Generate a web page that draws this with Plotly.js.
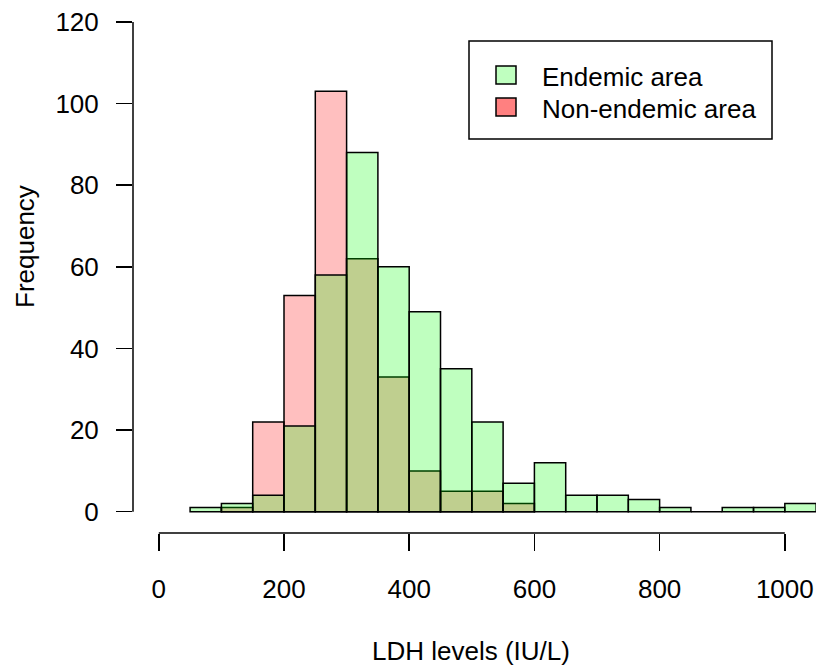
<!DOCTYPE html>
<html>
<head>
<meta charset="utf-8">
<script src="https://cdn.plot.ly/plotly-3.0.1.min.js"></script>
<style>html,body{margin:0;padding:0;background:#fff;}#chart{width:816px;height:668px;}</style>
</head>
<body>
<div id="chart"></div>
<script>
// ---- data ----
const binStarts = [50,100,150,200,250,300,350,400,450,500,550,600,650,700,750,800,850,900,950,1000];
const binWidth = 50;
const endemic = [1,2,4,21,58,88,60,49,35,22,7,12,4,4,3,1,0,1,1,2];
const nonEndemicStarts = [100,150,200,250,300,350,400,450,500,550];
const nonEndemic = [1,22,53,103,62,33,10,5,5,2];
const seriesNames = ['Endemic area','Non-endemic area'];
const xTicks = [0,200,400,600,800,1000];
const yTicks = [0,20,40,60,80,100,120];
const xTitle = 'LDH levels (IU/L)';
const yTitle = 'Frequency';

const FONT = '"Liberation Sans", Arial, sans-serif';
const centers = a => a.map(v => v + binWidth/2);

const traces = [
  {type:'bar', name:seriesNames[1], x:centers(nonEndemicStarts), y:nonEndemic, width:binWidth,
   marker:{color:'rgba(255,0,0,0.25)', line:{color:'#000', width:1.5}}, showlegend:false, hoverinfo:'x+y'},
  {type:'bar', name:seriesNames[0], x:centers(binStarts), y:endemic, width:binWidth,
   marker:{color:'rgba(0,255,0,0.25)', line:{color:'#000', width:1.5}}, showlegend:false, hoverinfo:'x+y'}
];

const L = 133, T = 10, W = 683, H = 523;
const px = v => (v - L) / W;
const py = v => (T + H - v) / H;

const layout = {
  width:816, height:668,
  margin:{l:L, r:0, t:T, b:668-T-H, pad:0},
  paper_bgcolor:'#fff', plot_bgcolor:'#fff',
  barmode:'overlay', bargap:0,
  font:{family:FONT, size:26, color:'#000'},
  showlegend:false,
  xaxis:{range:[-41.2,1049.8], tickvals:xTicks, ticktext:xTicks.map(String), ticks:'outside', ticklen:17, tickwidth:1.5, tickcolor:'#000',
         showgrid:false, zeroline:false, showline:false, ticklabelstandoff:16, tickfont:{family:FONT,size:26,color:'#000'}},
  yaxis:{range:[-5.22,122.94], tickvals:yTicks, ticktext:yTicks.map(String), ticks:'outside', ticklen:16, tickwidth:1.5, tickcolor:'#000',
         showgrid:false, zeroline:false, showline:false, ticklabelstandoff:12, tickfont:{family:FONT,size:26,color:'#000'}},
  shapes:[
    {type:'line', xref:'x', yref:'paper', x0:xTicks[0], x1:xTicks[xTicks.length-1], y0:0, y1:0, line:{color:'#000', width:1.5}},
    {type:'line', xref:'paper', yref:'y', x0:0, x1:0, y0:yTicks[0], y1:yTicks[yTicks.length-1], line:{color:'#000', width:1.5}},
    {type:'rect', xref:'paper', yref:'paper', x0:px(469), x1:px(772), y0:py(139), y1:py(41), line:{color:'#000', width:1.5}, fillcolor:'#fff'},
    {type:'rect', xref:'paper', yref:'paper', x0:px(496), x1:px(516), y0:py(84), y1:py(66), line:{color:'#000', width:1.5}, fillcolor:'#BFFFBF'},
    {type:'rect', xref:'paper', yref:'paper', x0:px(496), x1:px(516), y0:py(116), y1:py(98), line:{color:'#000', width:1.5}, fillcolor:'#FF8080'}
  ],
  annotations:[
    {text:xTitle, xref:'paper', yref:'paper', x:px(471), y:py(651), xanchor:'center', yanchor:'middle', showarrow:false, font:{family:FONT,size:26,color:'#000'}},
    {text:yTitle, xref:'paper', yref:'paper', x:px(25), y:py(247), xanchor:'center', yanchor:'middle', textangle:-90, showarrow:false, font:{family:FONT,size:26,color:'#000'}},
    {text:seriesNames[0], xref:'paper', yref:'paper', x:px(540), y:py(77), xanchor:'left', yanchor:'middle', showarrow:false, font:{family:FONT,size:26,color:'#000'}},
    {text:seriesNames[1], xref:'paper', yref:'paper', x:px(540), y:py(109), xanchor:'left', yanchor:'middle', showarrow:false, font:{family:FONT,size:26,color:'#000'}}
  ]
};

Plotly.newPlot('chart', traces, layout, {displayModeBar:false, staticPlot:true});
</script>
</body>
</html>
